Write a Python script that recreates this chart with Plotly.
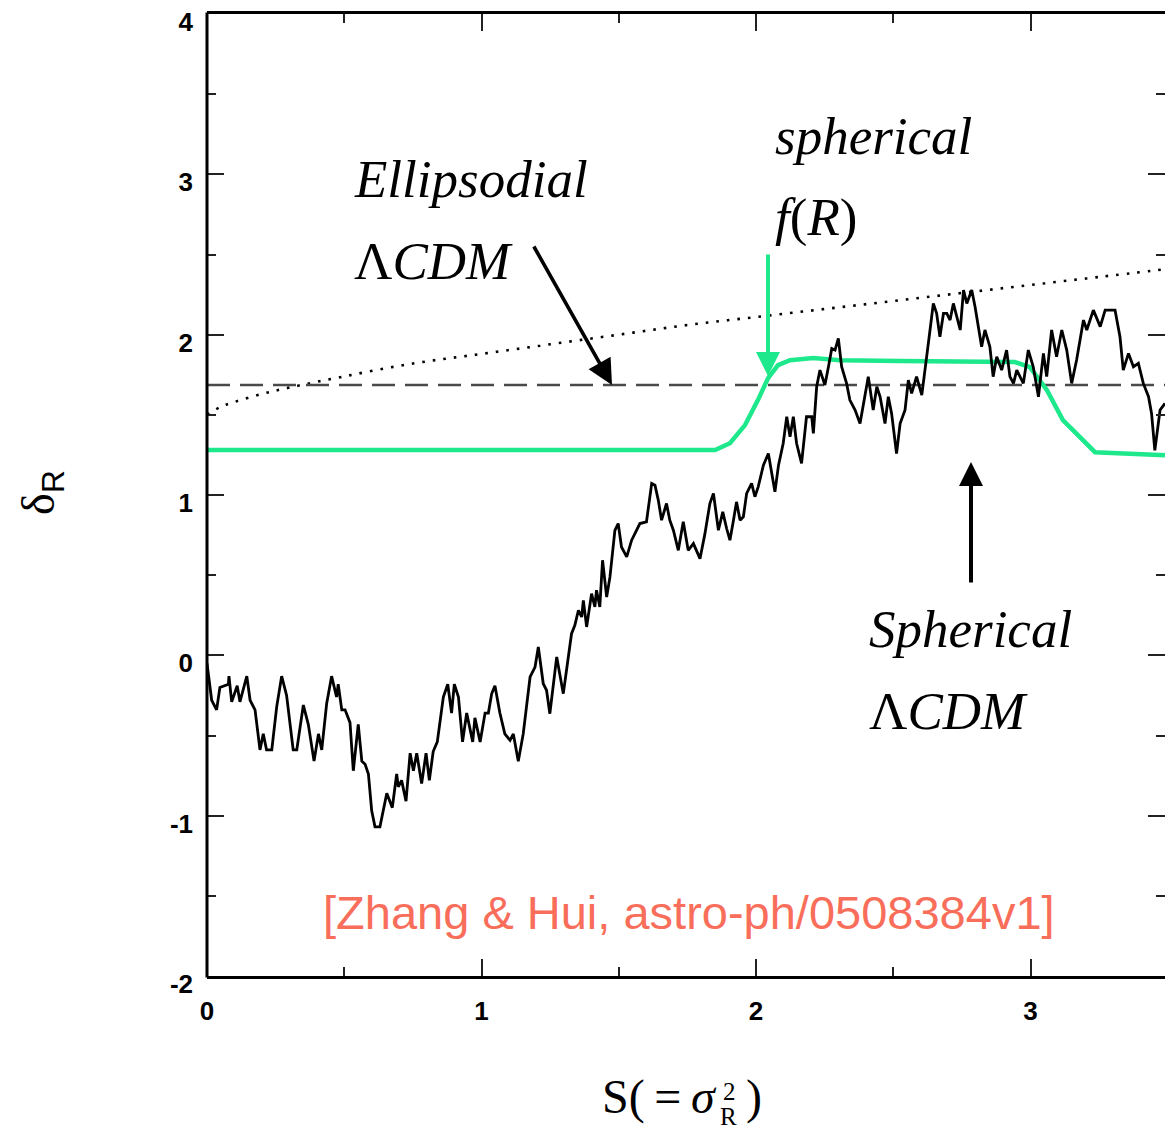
import plotly.graph_objects as go

# ---------------- data ----------------
# random walk delta_R(S)
walk_s = [0.000, 0.017, 0.035, 0.047, 0.078, 0.080, 0.090, 0.110, 0.120, 0.145, 0.157, 0.175,
          0.193, 0.205, 0.217, 0.236, 0.254, 0.272, 0.290, 0.314, 0.327, 0.351, 0.369, 0.390,
          0.406, 0.418, 0.436, 0.454, 0.472, 0.478, 0.491, 0.503, 0.521, 0.533, 0.551, 0.564,
          0.576, 0.588, 0.600, 0.612, 0.630, 0.642, 0.655, 0.675, 0.691, 0.697, 0.709, 0.725,
          0.740, 0.752, 0.764, 0.782, 0.798, 0.810, 0.824, 0.839, 0.849, 0.861, 0.877, 0.891,
          0.901, 0.916, 0.931, 0.946, 0.968, 0.976, 0.995, 1.013, 1.025, 1.037, 1.049, 1.067,
          1.085, 1.104, 1.116, 1.134, 1.152, 1.177, 1.195, 1.207, 1.225, 1.237, 1.249, 1.274,
          1.298, 1.328, 1.340, 1.353, 1.365, 1.371, 1.383, 1.401, 1.413, 1.419, 1.431, 1.441,
          1.456, 1.468, 1.486, 1.498, 1.510, 1.529, 1.547, 1.559, 1.577, 1.601, 1.620, 1.632,
          1.644, 1.656, 1.674, 1.686, 1.699, 1.717, 1.735, 1.753, 1.772, 1.796, 1.814, 1.832,
          1.845, 1.863, 1.879, 1.893, 1.905, 1.917, 1.929, 1.942, 1.954, 1.966, 1.984, 1.996,
          2.008, 2.027, 2.045, 2.069, 2.082, 2.099, 2.112, 2.124, 2.136, 2.148, 2.166, 2.184,
          2.203, 2.209, 2.221, 2.233, 2.251, 2.264, 2.276, 2.288, 2.300, 2.312, 2.330, 2.342,
          2.361, 2.379, 2.397, 2.409, 2.427, 2.440, 2.452, 2.470, 2.482, 2.494, 2.512, 2.525,
          2.543, 2.555, 2.567, 2.585, 2.604, 2.616, 2.634, 2.646, 2.658, 2.670, 2.683, 2.695,
          2.707, 2.719, 2.731, 2.744, 2.756, 2.768, 2.786, 2.798, 2.816, 2.822, 2.834, 2.852,
          2.864, 2.877, 2.895, 2.913, 2.925, 2.938, 2.950, 2.962, 2.974, 2.992, 3.010, 3.029,
          3.047, 3.059, 3.077, 3.095, 3.114, 3.132, 3.150, 3.168, 3.193, 3.205, 3.229, 3.254,
          3.272, 3.308, 3.326, 3.338, 3.357, 3.375, 3.393, 3.411, 3.430, 3.441, 3.453, 3.472,
          3.490]
walk_d = [-0.05, -0.28, -0.34, -0.20, -0.18, -0.13, -0.29, -0.19, -0.29, -0.13, -0.28, -0.34,
          -0.59, -0.49, -0.59, -0.59, -0.32, -0.13, -0.25, -0.59, -0.59, -0.31, -0.43, -0.66,
          -0.49, -0.59, -0.30, -0.13, -0.26, -0.18, -0.34, -0.34, -0.42, -0.72, -0.43, -0.66,
          -0.68, -0.74, -0.97, -1.07, -1.07, -0.97, -0.86, -0.95, -0.74, -0.82, -0.78, -0.91,
          -0.61, -0.72, -0.61, -0.80, -0.61, -0.78, -0.60, -0.54, -0.41, -0.26, -0.18, -0.36,
          -0.18, -0.26, -0.54, -0.36, -0.54, -0.39, -0.54, -0.36, -0.36, -0.24, -0.19, -0.36,
          -0.49, -0.53, -0.49, -0.66, -0.49, -0.135, -0.073, 0.052, -0.177, -0.218, -0.364, -0.010,
          -0.239, 0.135, 0.187, 0.281, 0.239, 0.343, 0.177, 0.385, 0.302, 0.406, 0.302, 0.593,
          0.364, 0.489, 0.780, 0.822, 0.676, 0.614, 0.718, 0.759, 0.822, 0.833, 1.072, 1.061,
          0.968, 0.843, 0.947, 0.843, 0.780, 0.655, 0.833, 0.655, 0.697, 0.603, 0.759, 0.947,
          1.010, 0.780, 0.895, 0.791, 0.718, 0.833, 0.957, 0.843, 0.864, 1.010, 1.072, 0.989,
          1.051, 1.186, 1.259, 1.020, 1.186, 1.321, 1.488, 1.363, 1.488, 1.321, 1.197, 1.488,
          1.488, 1.384, 1.675, 1.779, 1.686, 1.800, 1.914, 1.904, 1.977, 1.800, 1.696, 1.592,
          1.530, 1.446, 1.613, 1.738, 1.530, 1.675, 1.613, 1.446, 1.613, 1.509, 1.259, 1.446,
          1.530, 1.717, 1.634, 1.738, 1.623, 1.800, 2.029, 2.195, 2.133, 1.987, 2.133, 2.133,
          2.091, 2.195, 2.112, 2.029, 2.278, 2.195, 2.278, 2.174, 1.987, 1.925, 2.029, 1.925,
          1.738, 1.862, 1.779, 1.904, 1.738, 1.696, 1.779, 1.738, 1.696, 1.904, 1.800, 1.613,
          1.883, 1.738, 2.029, 1.862, 2.029, 1.904, 1.696, 1.842, 2.091, 2.029, 2.153, 2.050,
          2.153, 2.153, 1.987, 1.779, 1.883, 1.800, 1.821, 1.696, 1.613, 1.509, 1.279, 1.530,
          1.571]

# spherical f(R) barrier (green)
fr_s = [0.000, 1.851, 1.905, 1.960, 2.007, 2.044, 2.080, 2.124, 2.208, 2.306, 2.525, 2.889,
        2.943, 2.998, 3.060, 3.118, 3.180, 3.235, 3.490]
fr_d = [1.280, 1.280, 1.323, 1.436, 1.592, 1.729, 1.810, 1.841, 1.854, 1.841, 1.835, 1.835,
        1.829, 1.798, 1.654, 1.467, 1.361, 1.267, 1.248]

# ellipsoidal LCDM barrier (dotted)
ell_s = [0.0, 0.05, 0.1, 0.2, 0.3, 0.5, 0.75, 1.0, 1.25, 1.5, 1.75, 2.0, 2.25, 2.5, 2.75,
         3.0, 3.25, 3.5]
ell_d = [1.50, 1.55, 1.58, 1.63, 1.67, 1.74, 1.82, 1.88, 1.94, 2.00, 2.06, 2.11, 2.16, 2.21,
         2.26, 2.31, 2.36, 2.41]

# spherical LCDM barrier (dashed)
sph_s = [0.0, 3.5]
sph_d = [1.686, 1.686]

x_ticks = [0, 1, 2, 3]
x_ticktext = ["0", "1", "2", "3"]
y_ticks = [-2, -1, 0, 1, 2, 3, 4]
y_ticktext = ["-2", "-1", "0", "1", "2", "3", "4"]

x_range = [0, 3.49]
y_range = [-2, 4]

# ---------------- figure ----------------
W, H = 1165, 1130
ML, MR, MT, MB = 207, 0, 14, 154
pw, ph = W - ML - MR, H - MT - MB


def X(px):  # reference pixel -> data x
    return x_range[0] + (px - ML) / pw * (x_range[1] - x_range[0])


def Y(py):  # reference pixel -> data y
    return y_range[1] - (py - MT) / ph * (y_range[1] - y_range[0])


def PX(px):
    return (px - ML) / pw


def PY(py):
    return 1 - (py - MT) / ph


GREEN = "#1EE88C"

fig = go.Figure()
fig.add_trace(go.Scatter(x=ell_s, y=ell_d, mode="lines", line=dict(color="black", width=2.6, dash="2.6px,8px"),
                         line_shape="spline", hoverinfo="skip"))
fig.add_trace(go.Scatter(x=sph_s, y=sph_d, mode="lines", line=dict(color="#4a4a4a", width=2.6, dash="23px,10px"),
                         hoverinfo="skip"))
fig.add_trace(go.Scatter(x=fr_s, y=fr_d, mode="lines", line=dict(color=GREEN, width=4.5),
                         hoverinfo="skip"))
fig.add_trace(go.Scatter(x=walk_s, y=walk_d, mode="lines", line=dict(color="black", width=2.8), hoverinfo="skip"))

tickfont = dict(family="Liberation Sans", size=26, color="black", weight="bold")
common = dict(ticks="inside", ticklen=17, tickwidth=2, tickcolor="#222", showgrid=False, zeroline=False,
              tickfont=tickfont, mirror="ticks", tickmode="array", ticklabeloverflow="allow")
minor = dict(dtick=0.5, tick0=0, ticks="inside", ticklen=9, tickwidth=2, tickcolor="#222", showgrid=False)

fig.update_xaxes(range=x_range, tickvals=x_ticks, ticktext=x_ticktext, minor=minor,
                 showline=True, linewidth=3, linecolor="black", ticklabelstandoff=10, **common)
fig.update_yaxes(range=y_range, tickvals=y_ticks, ticktext=y_ticktext, minor=minor,
                 showline=False, ticklabelstandoff=13, ticklabelshift=8, **common)

# left spine
fig.add_shape(type="line", xref="paper", yref="paper", x0=0, x1=0, y0=-0.0016, y1=1.0016,
              line=dict(color="black", width=3))

serif_i = dict(family="Liberation Serif", size=53, color="black", style="italic")
UP = "<span style='font-style:normal'>%s</span>"
texts = [
    ("Ellipsodial", 352, 179),
    (UP % "Λ" + "CDM", 352, 261),
    ("spherical", 773, 136),
    ("f" + UP % "(" + "R" + UP % ")", 773, 217),
    ("Spherical", 867, 629),
    (UP % "Λ" + "CDM", 867, 711),
]
for t, px, py in texts:
    fig.add_annotation(text=t, xref="paper", yref="paper", x=PX(px), y=PY(py), xanchor="left",
                       yanchor="middle", showarrow=False, font=serif_i)

# citation
fig.add_annotation(text="[Zhang &amp; Hui, astro-ph/0508384v1]", xref="paper", yref="paper",
                   x=PX(689), y=PY(912), xanchor="center", yanchor="middle", showarrow=False,
                   font=dict(family="Liberation Serif" if False else "Liberation Sans", size=47, color="#F96E5A"))

# x axis title  S(=σ²_R) with stacked super/subscript
serif = dict(family="Liberation Serif", size=48, color="black")
small = dict(family="Liberation Serif", size=25, color="black")
fig.add_annotation(text="S(\u2009=\u2009<i>σ</i>", xref="paper", yref="paper", x=PX(719), y=PY(1097),
                   xanchor="right", yanchor="middle", showarrow=False, font=serif)
fig.add_annotation(text="2", xref="paper", yref="paper", x=PX(729), y=PY(1106),
                   xanchor="center", yanchor="bottom", showarrow=False, borderpad=0, font=small)
fig.add_annotation(text="R", xref="paper", yref="paper", x=PX(728), y=PY(1102),
                   xanchor="center", yanchor="top", showarrow=False, borderpad=0, font=small)
fig.add_annotation(text=")", xref="paper", yref="paper", x=PX(744), y=PY(1097),
                   xanchor="left", yanchor="middle", showarrow=False, font=serif)

# y axis title
fig.add_annotation(text="δ<sub><span style='font-family:Liberation Sans'>R</span></sub>", xref="paper", yref="paper",
                   x=PX(42), y=PY(493), xanchor="center", yanchor="middle", showarrow=False, textangle=-90,
                   font=dict(family="Liberation Serif", size=46, color="black"))

# arrows
arrows = [
    (533, 245, 612, 385, "black", 3.6, 1.4),
    (768, 253, 768, 376, GREEN, 4, 1.2),
    (971, 584, 971, 462, "black", 4, 1.2),
]
for x0, y0, x1, y1, col, w, sz in arrows:
    fig.add_annotation(x=X(x1), y=Y(y1), xref="x", yref="y", ax=x0 - x1, ay=y0 - y1,
                       axref="pixel", ayref="pixel", text="", showarrow=True, arrowhead=2,
                       arrowsize=sz, arrowwidth=w, arrowcolor=col, standoff=0)

fig.update_layout(width=W, height=H, margin=dict(l=ML, r=MR, t=MT, b=MB, autoexpand=False),
                  plot_bgcolor="white", paper_bgcolor="white", showlegend=False)

fig.write_html("out.html")
